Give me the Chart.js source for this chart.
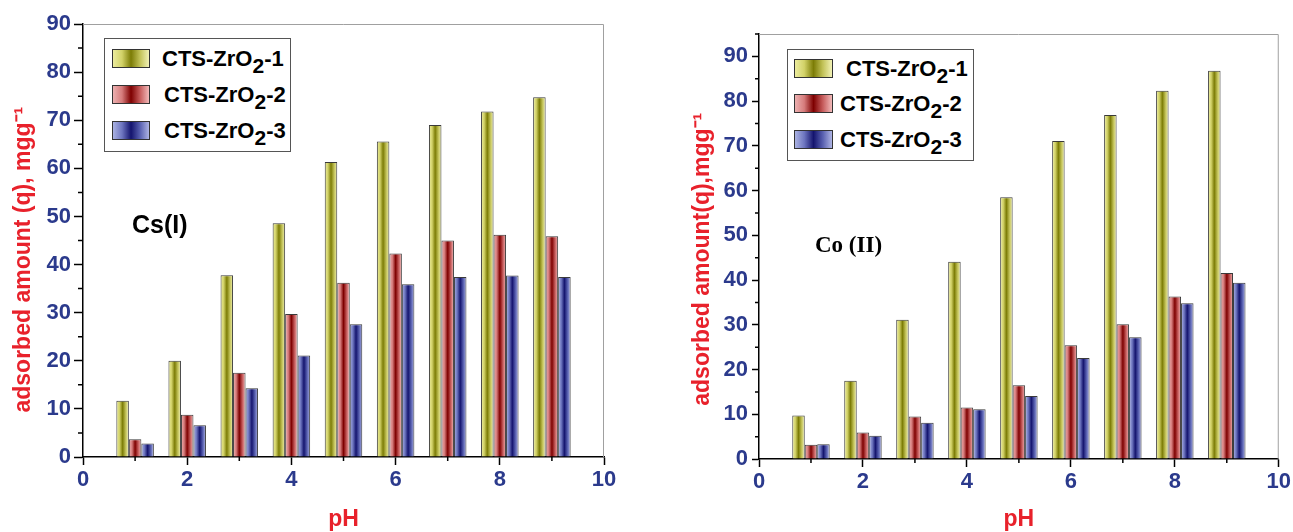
<!DOCTYPE html>
<html>
<head>
<meta charset="utf-8">
<script src="https://cdn.jsdelivr.net/npm/chart.js@4.4.0/dist/chart.umd.min.js"></script>
<style>
  body { margin: 0; background: #fff; }
  #wrap { position: relative; width: 1293px; height: 532px; overflow: hidden; font-family: "Liberation Sans", Arial, sans-serif; }
  canvas { position: absolute; top: 0; }
  #csChart { left: 0; }
  #coChart { left: 646px; }
  .legend { position: absolute; width: 187px; border: 1px solid #555; box-sizing: border-box; background: #fff; }
  .sw { position: absolute; height: 19px; border: 1px solid #333; box-sizing: border-box; }
  .txt { position: absolute; font-weight: bold; font-size: 22px; line-height: 1; color: #000; white-space: nowrap; }
  .txt sub { font-size: 21px; vertical-align: -7px; line-height: 0; }
  .note { position: absolute; font-weight: bold; line-height: 1; color: #000; white-space: nowrap; }
</style>
</head>
<body>
<div id="wrap">
  <canvas id="csChart" width="646" height="532"></canvas>
  <canvas id="coChart" width="647" height="532"></canvas>
  <div class="legend" id="csLegend" style="left:104px; top:38px; height:114px;"></div>
  <div class="legend" id="coLegend" style="left:787px; top:49px; height:112px;"></div>
  <div class="note" style="left:132px; top:212px; font-size:25px;">Cs(I)</div>
  <div class="note" style="left:815px; top:233px; font-size:23px; font-family:'Liberation Serif', 'Times New Roman', serif;">Co (II)</div>
</div>

<script>
// pH values on the x axis
const phValues = [1, 2, 3, 4, 5, 6, 7, 8, 9];
const seriesNames = ["CTS-ZrO2-1", "CTS-ZrO2-2", "CTS-ZrO2-3"];

// Cs(I) adsorbed amount, mg/g
const csZr1 = [11.7, 20.0, 37.8, 48.6, 61.3, 65.6, 69.0, 71.8, 74.8];
const csZr2 = [3.7, 8.8, 17.5, 29.7, 36.2, 42.3, 45.0, 46.2, 45.9];
const csZr3 = [2.8, 6.6, 14.3, 21.1, 27.6, 35.9, 37.4, 37.7, 37.4];

// Co(II) adsorbed amount, mg/g
const coZr1 = [9.7, 17.5, 31.1, 44.1, 58.5, 71.1, 76.9, 82.3, 86.8];
const coZr2 = [3.2, 5.9, 9.5, 11.5, 16.5, 25.4, 30.1, 36.3, 41.6];
const coZr3 = [3.3, 5.2, 8.1, 11.1, 14.1, 22.6, 27.2, 34.8, 39.4];

// minor tick values
const xMinor = [1, 3, 5, 7, 9];
const csYMinor = [5, 15, 25, 35, 45, 55, 65, 75, 85];
const coYMinor = [5, 15, 25, 35, 45, 55, 65, 75, 85, 95];

// gradient stops (left edge -> centre -> right edge) per series
const barColors = [
  ["#ecec9e", "#d2d268", "#7c7c06", "#c2c258", "#f2f2b6"],
  ["#ecb0b0", "#d67c7c", "#7e0000", "#c65c5c", "#f2baba"],
  ["#aab2e2", "#6e76c0", "#14146e", "#5860b0", "#aeb4e4"]
];
const groupPct = 0.72;
const tickBlue = "#2b3a8c";
const titleRed = "#e8212b";

function barGradient(c) {
  const stops = barColors[c.datasetIndex];
  const xs = c.chart.scales.x;
  if (!xs || c.type !== "data") return stops[2];
  const unit = xs.getPixelForValue(1) - xs.getPixelForValue(0);
  const w = unit * groupPct / 3;
  const mid = xs.getPixelForValue(c.parsed.x) + (c.datasetIndex - 1) * w;
  if (!isFinite(mid) || !isFinite(w)) return stops[2];
  const g = c.chart.ctx.createLinearGradient(mid - w / 2, 0, mid + w / 2, 0);
  stops.forEach((col, i) => g.addColorStop(i / (stops.length - 1), col));
  return g;
}

// grey frame on top/right + short minor ticks
const framePlugin = {
  id: "frame",
  afterDraw(chart, args, opts) {
    const { ctx, chartArea: a, scales: { x, y } } = chart;
    ctx.save();
    ctx.strokeStyle = "#a0a0a0";
    ctx.lineWidth = 1;
    ctx.beginPath();
    ctx.moveTo(a.left, a.top + 0.5);
    ctx.lineTo(a.right - 0.5, a.top + 0.5);
    ctx.lineTo(a.right - 0.5, a.bottom);
    ctx.stroke();
    ctx.strokeStyle = "#000";
    ctx.lineWidth = 1.5;
    ctx.beginPath();
    xMinor.forEach(v => {
      const px = x.getPixelForValue(v);
      ctx.moveTo(px, a.bottom);
      ctx.lineTo(px, a.bottom + 4);
    });
    opts.yMinor.forEach(v => {
      const py = y.getPixelForValue(v);
      ctx.moveTo(a.left, py);
      ctx.lineTo(a.left - opts.minorLen, py);
    });
    ctx.stroke();
    ctx.restore();
  }
};

function makeChart(id, series, cfg) {
  const datasets = series.map((vals, i) => ({
    label: seriesNames[i],
    data: phValues.map((ph, k) => ({ x: ph, y: vals[k] })),
    backgroundColor: barGradient,
    borderColor: "#3a3a3a",
    borderWidth: 1,
    categoryPercentage: groupPct,
    barPercentage: 1
  }));

  new Chart(document.getElementById(id), {
    type: "bar",
    data: { datasets },
    plugins: [framePlugin],
    options: {
      responsive: false,
      animation: false,
      events: [],
      layout: { padding: { top: cfg.top, right: cfg.right, bottom: 0, left: 0 } },
      plugins: {
        legend: { display: false },
        tooltip: { enabled: false },
        frame: { yMinor: cfg.yMinor, minorLen: cfg.minorLen }
      },
      scales: {
        x: {
          type: "linear",
          min: 0,
          max: 10,
          offset: false,
          afterFit: s => { s.height = cfg.xHeight; },
          border: { color: "#000", width: 1.5 },
          grid: { offset: false, drawOnChartArea: false, tickLength: 8, tickColor: "#000", tickWidth: 1.5 },
          ticks: { stepSize: 2, padding: 2, color: tickBlue, font: { family: "Liberation Sans", size: 22, weight: "bold" } },
          title: {
            display: true,
            text: "pH",
            color: titleRed,
            font: { family: "Liberation Sans", size: 23, weight: "bold", lineHeight: 1 },
            padding: { top: 0, bottom: 0.5 }
          }
        },
        y: {
          min: 0,
          max: cfg.yMax,
          afterFit: s => { s.width = cfg.yWidth; },
          border: { color: "#000", width: 1.5 },
          grid: { drawOnChartArea: false, tickLength: cfg.majorLen, tickColor: "#000", tickWidth: 1.5 },
          ticks: { stepSize: 10, includeBounds: false, padding: cfg.tickPad, color: tickBlue, font: { family: "Liberation Sans", size: 22, weight: "bold" } },
          title: {
            display: true,
            text: cfg.yTitle,
            color: titleRed,
            font: { family: "Liberation Sans", size: 23, weight: "bold", lineHeight: 1 },
            padding: { top: cfg.titlePad, bottom: 0 }
          }
        }
      }
    }
  });
}

function renderLegend(id, rows) {
  const box = document.getElementById(id);
  let template = "";
  seriesNames.forEach((name, i) => {
    const r = rows[i];
    const grad = `linear-gradient(to right, ${barColors[i].join(", ")})`;
    const label = name.replace("O2", "O<sub>2</sub>");
    template += `
    <div class="sw" style="left:${r.sx}px; top:${r.cy - 10}px; width:${r.sw}px; background:${grad};"></div>
    <div class="txt" style="left:${r.tx}px; top:${r.cy - 11}px;">${label}</div>
    `;
  });
  box.innerHTML = template;
}

makeChart("csChart", [csZr1, csZr2, csZr3], {
  top: 24, right: 42, xHeight: 75, yWidth: 83, yMax: 90,
  majorLen: 9, minorLen: 5, tickPad: 3, titlePad: 12.5,
  yMinor: csYMinor,
  yTitle: "adsorbed amount (q), mgg\u207B\u00B9" + "\u00a0".repeat(6)
});

makeChart("coChart", [coZr1, coZr2, coZr3], {
  top: 34, right: 11, xHeight: 73, yWidth: 113, yMax: 95,
  majorLen: 7, minorLen: 4, tickPad: 4, titlePad: 45.5,
  yMinor: coYMinor,
  yTitle: "adsorbed amount(q),mgg\u207B\u00B9" + "\u00a0".repeat(4)
});

renderLegend("csLegend", [
  { sx: 7, sw: 38, tx: 57, cy: 20 },
  { sx: 7, sw: 38, tx: 59, cy: 56 },
  { sx: 7, sw: 38, tx: 59, cy: 92 }
]);
renderLegend("coLegend", [
  { sx: 6, sw: 39, tx: 58, cy: 19 },
  { sx: 6, sw: 39, tx: 52, cy: 54 },
  { sx: 6, sw: 39, tx: 52, cy: 90 }
]);
</script>
</body>
</html>
